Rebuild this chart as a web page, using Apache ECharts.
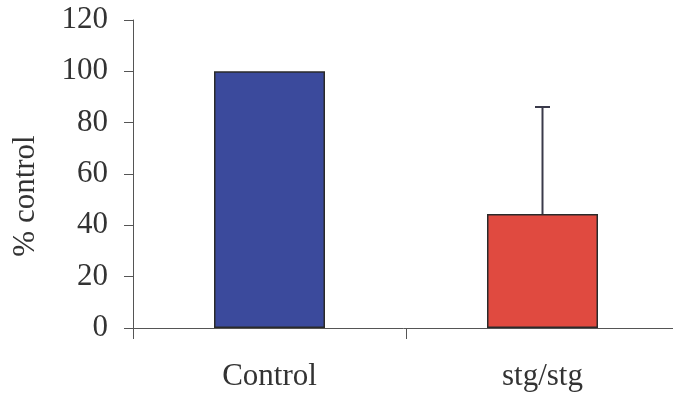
<!DOCTYPE html>
<html>
<head>
<meta charset="utf-8">
<script src="https://cdn.jsdelivr.net/npm/echarts@6/dist/echarts.min.js"></script>
<style>html,body{margin:0;padding:0;background:#fff;}#c{width:673px;height:400px;}</style>
</head>
<body>
<div id="c"></div>
<script>
const categories = ['Control', 'stg/stg'];
const values = [100, 44.4];
const errorTop = [null, 86.1];
const barColors = ['#3b4a9c', '#e04a40'];
const yTicks = [0, 20, 40, 60, 80, 100, 120];

const chart = echarts.init(document.getElementById('c'));
const font = '"Liberation Serif", "Times New Roman", serif';
chart.setOption({
  animation: false,
  backgroundColor: '#fff',
  grid: { left: 133, top: 20, bottom: 72, right: -6, containLabel: false, outerBoundsMode: 'none' },
  xAxis: {
    type: 'category',
    data: categories,
    axisLine: { lineStyle: { color: '#555', width: 1 } },
    axisTick: { show: true, length: 11, lineStyle: { color: '#555' } },
    axisLabel: { color: '#333', fontFamily: font, fontSize: 31, margin: 33 }
  },
  yAxis: {
    type: 'value',
    min: yTicks[0], max: yTicks[yTicks.length - 1], interval: 20,
    name: '% control',
    nameLocation: 'middle',
    nameGap: 92,
    nameRotate: 90,
    nameTextStyle: { color: '#333', fontFamily: font, fontSize: 31, padding: [0, 44, 0, 0] },
    axisLine: { show: true, lineStyle: { color: '#555', width: 1 } },
    axisTick: { show: true, length: 9, lineStyle: { color: '#555' } },
    axisLabel: { color: '#333', fontFamily: font, fontSize: 31, margin: 25 },
    splitLine: { show: false }
  },
  series: [
    {
      type: 'bar',
      barWidth: 111,
      data: values.map((v, i) => ({ value: v, itemStyle: { color: barColors[i] } })),
      itemStyle: { borderColor: '#2a2a2a', borderWidth: 1.5 }
    },
    {
      type: 'custom',
      data: errorTop.map((t, i) => [i, values[i], t]).filter(d => d[2] != null),
      z: 1,
      renderItem: function (params, api) {
        const x = api.value(0);
        const lo = api.coord([x, api.value(1)]);
        const hi = api.coord([x, api.value(2)]);
        const half = 7.5;
        return {
          type: 'group',
          children: [
            { type: 'line', shape: { x1: lo[0], y1: lo[1], x2: hi[0], y2: hi[1] }, style: { stroke: '#3a3a4a', lineWidth: 2 } },
            { type: 'line', shape: { x1: hi[0] - half, y1: hi[1], x2: hi[0] + half, y2: hi[1] }, style: { stroke: '#3a3a4a', lineWidth: 2 } }
          ]
        };
      }
    }
  ]
});
</script>
</body>
</html>
